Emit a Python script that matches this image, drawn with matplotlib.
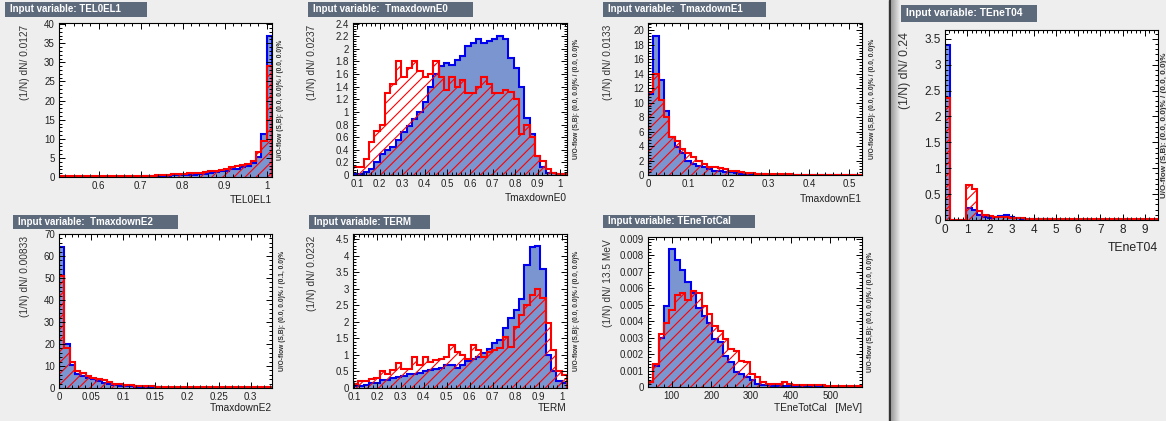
import numpy as np
import matplotlib.pyplot as plt
from matplotlib.patches import Rectangle
from matplotlib.ticker import MultipleLocator, FuncFormatter

plt.rcParams['font.family'] = ['Liberation Sans', 'DejaVu Sans']
plt.rcParams['hatch.linewidth'] = 0.8

# ---- data: 40 bins per variable, signal (blue) and background (red)
tel0el1_sig = [0.05, 0.05, 0.05, 0.05, 0.06, 0.06, 0.06, 0.07, 0.07, 0.08,
               0.08, 0.09, 0.1, 0.1, 0.11, 0.12, 0.14, 0.16, 0.2, 0.3,
               0.3, 0.4, 0.5, 0.5, 0.6, 0.6, 0.8, 0.9, 1.1, 1.3,
               1.6, 1.7, 2.2, 2.2, 2.6, 3.0, 3.6, 5.3, 11.3, 37.0]
tel0el1_bkg = [0.25, 0.25, 0.25, 0.25, 0.25, 0.25, 0.25, 0.25, 0.25, 0.25,
               0.25, 0.25, 0.25, 0.25, 0.3, 0.3, 0.3, 0.35, 0.4, 0.5,
               0.5, 0.8, 0.9, 0.9, 1.0, 1.0, 1.1, 1.3, 1.5, 1.7,
               1.9, 2.2, 2.6, 2.9, 3.2, 3.3, 4.3, 6.5, 9.5, 29.0]

e0_sig = [0.02, 0.02, 0.05, 0.1, 0.2, 0.33, 0.4, 0.45, 0.55, 0.68,
          0.78, 0.88, 1.0, 1.15, 1.4, 1.6, 1.73, 1.78, 1.75, 1.82,
          1.88, 2.05, 2.1, 2.15, 2.1, 2.12, 2.15, 2.2, 2.15, 1.85,
          1.7, 1.4, 0.9, 0.65, 0.3, 0.12, 0.03, 0.03, 0.01, 0.01]
e0_bkg = [0.12, 0.12, 0.25, 0.53, 0.7, 0.8, 1.3, 1.45, 1.8, 1.55,
          1.7, 1.8, 1.65, 1.55, 1.6, 1.8, 1.55, 1.35, 1.55, 1.4,
          1.5, 1.3, 1.3, 1.4, 1.55, 1.45, 1.3, 1.3, 1.35, 1.32,
          1.2, 0.65, 0.8, 0.6, 0.3, 0.22, 0.1, 0.03, 0.01, 0.01]

e1_sig = [11.2, 19.2, 13.1, 8.9, 5.2, 3.9, 3.1, 2.0, 1.5, 1.3,
          1.06, 0.8, 0.6, 0.5, 0.45, 0.35, 0.3, 0.2, 0.15, 0.1,
          0.1, 0.08, 0.06, 0.05, 0.05, 0.04, 0.04, 0.03, 0.03, 0.03,
          0.02, 0.02, 0.02, 0.02, 0.02, 0.02, 0.01, 0.01, 0.01, 0.01]
e1_bkg = [11.5, 14.0, 10.3, 8.0, 5.2, 4.7, 3.6, 3.0, 2.45, 2.0,
          1.5, 1.15, 1.06, 0.9, 0.8, 0.6, 0.5, 0.4, 0.3, 0.25,
          0.2, 0.15, 0.12, 0.1, 0.08, 0.1, 0.08, 0.06, 0.06, 0.05,
          0.05, 0.05, 0.04, 0.04, 0.04, 0.03, 0.03, 0.03, 0.03, 0.03]

t04_sig = [3.38, 0, 0, 0, 0.23, 0.2, 0.1, 0.05, 0.03, 0.05,
           0.07, 0.09, 0.05, 0.03, 0.02, 0.01, 0.01, 0.01, 0.01, 0.01,
           0.005, 0.005, 0.005, 0.005, 0.005, 0.005, 0.005, 0.005, 0.005, 0.005,
           0.005, 0.005, 0.005, 0.005, 0.005, 0.005, 0.005, 0.005, 0.005, 0.005]
t04_bkg = [2.35, 0, 0, 0, 0.68, 0.6, 0.17, 0.1, 0.08, 0.06,
           0.06, 0.05, 0.04, 0.03, 0.03, 0.02, 0.02, 0.02, 0.02, 0.02,
           0.01, 0.01, 0.01, 0.01, 0.01, 0.01, 0.01, 0.01, 0.01, 0.01,
           0.01, 0.01, 0.01, 0.01, 0.01, 0.01, 0.01, 0.01, 0.01, 0.01]

e2_sig = [64, 20.2, 10.3, 6.5, 5.5, 4.5, 4.0, 3.2, 2.4, 1.8,
          1.5, 1.1, 0.9, 0.7, 0.6, 0.5, 0.4, 0.3, 0.3, 0.2,
          0.2, 0.15, 0.15, 0.1, 0.1, 0.1, 0.1, 0.08, 0.08, 0.05,
          0.05, 0.05, 0.05, 0.05, 0.05, 0.05, 0.03, 0.03, 0.03, 0.03]
e2_bkg = [51, 18, 11.9, 7.8, 6.8, 5.5, 4.7, 4.2, 3.5, 2.7,
          2.0, 1.7, 1.5, 1.2, 1.0, 0.9, 0.8, 0.7, 0.6, 0.55,
          0.5, 0.5, 0.45, 0.45, 0.4, 0.4, 0.35, 0.35, 0.3, 0.3,
          0.3, 0.3, 0.3, 0.25, 0.25, 0.25, 0.25, 0.25, 0.25, 0.25]

term_sig = [0.05, 0.05, 0.1, 0.15, 0.15, 0.25, 0.25, 0.3, 0.32, 0.35,
            0.42, 0.42, 0.45, 0.5, 0.55, 0.58, 0.6, 0.68, 0.68, 0.6,
            0.7, 0.82, 0.88, 0.95, 1.05, 1.18, 1.35, 1.45, 1.8, 2.1,
            2.35, 2.7, 3.7, 4.25, 4.3, 3.6, 1.0, 0.5, 0.2, 0.15]
term_bkg = [0.12, 0.2, 0.22, 0.28, 0.3, 0.5, 0.42, 0.55, 0.75, 0.58,
            0.58, 0.95, 0.7, 0.95, 0.78, 0.85, 0.88, 0.95, 1.3, 1.1,
            1.0, 0.88, 1.3, 1.15, 0.95, 1.1, 1.15, 1.2, 1.55, 1.25,
            1.85, 2.2, 2.5, 2.8, 3.0, 2.73, 1.95, 1.15, 0.5, 0.38]

etot_sig = [0.0003, 0.0013, 0.003, 0.0049, 0.0084, 0.0077, 0.0071, 0.0064, 0.0057, 0.0048,
            0.0043, 0.0039, 0.0029, 0.0027, 0.0019, 0.0015, 0.0009, 0.0008, 0.0006, 0.0004,
            0.0002, 0.0001, 0.0001, 0.00008, 0.00005, 0.00005, 0.00004, 0.00003, 0.00003, 0.00002,
            0.00002, 0.00002, 0.00001, 0.00001, 0.00001, 0.00001, 0.00001, 0.00001, 0.00001, 0.00001]
etot_bkg = [0.0003, 0.0014, 0.0032, 0.0039, 0.0047, 0.0056, 0.0057, 0.0053, 0.0058, 0.0057,
            0.0049, 0.0044, 0.0037, 0.0034, 0.0029, 0.0023, 0.0022, 0.0016, 0.0015, 0.0008,
            0.0006, 0.0003, 0.0002, 0.0002, 0.0002, 0.0003, 0.0002, 0.0001, 0.0001, 0.0001,
            0.0001, 0.0001, 0.0001, 0.00005, 0.00005, 0.00005, 0.00005, 0.00005, 0.00005, 0.00005]

W, H = 1166, 421
fig = plt.figure(figsize=(W / 100, H / 100), dpi=100, facecolor='#eeeeee')

# window border between the two canvases
fig.add_artist(Rectangle((889 / W, 0), 2 / W, 1, transform=fig.transFigure, color='#333333'))
for k in range(9):
    fig.add_artist(Rectangle(((891 + k) / W, 0), 1 / W, 1, transform=fig.transFigure,
                             color=str(0.62 + k * 0.035), lw=0))

fmt = FuncFormatter(lambda v, p: '%g' % round(v, 6))


def panel(box, x0, bw, sig, bkg, ytop, xt, yt, title, tbox, ylab, ylab_x, xlab, xlab_y,
          flow, flow_x, fs=7.0, tfs=7.0):
    l, t, r, b = box
    ax = fig.add_axes([l / W, 1 - b / H, (r - l) / W, (b - t) / H])
    edges = x0 + bw * np.arange(len(sig) + 1)
    ax.stairs(sig, edges, fill=True, facecolor='#7a95cf', edgecolor='none', lw=0)
    ax.stairs(sig, edges, baseline=0, color='#0000ee', lw=1.5)
    ax.stairs(bkg, edges, fill=True, facecolor='none', edgecolor='#ff0000', hatch='///', lw=0)
    ax.stairs(bkg, edges, baseline=0, color='#ff0000', lw=1.5)
    ax.set_xlim(edges[0], edges[-1])
    ax.set_ylim(0, ytop)
    ax.xaxis.set_major_locator(MultipleLocator(xt[0]))
    ax.xaxis.set_minor_locator(MultipleLocator(xt[1]))
    ax.yaxis.set_major_locator(MultipleLocator(yt[0]))
    ax.yaxis.set_minor_locator(MultipleLocator(yt[1]))
    ax.xaxis.set_major_formatter(fmt)
    ax.yaxis.set_major_formatter(fmt)
    ax.tick_params(which='both', direction='in', top=True, right=True, width=0.7,
                   labelsize=fs, labelcolor='#222222', pad=3)
    ax.tick_params(which='major', length=4.5)
    ax.tick_params(which='minor', length=2.2)
    for s in ax.spines.values():
        s.set_linewidth(0.8)

    bx0, by0, bx1, by1 = tbox
    fig.add_artist(Rectangle((bx0 / W, 1 - by1 / H), (bx1 - bx0) / W, (by1 - by0) / H,
                             transform=fig.transFigure, color='#5d6a7c', lw=0))
    fig.text((bx0 + 5) / W, 1 - (by0 + by1) / 2 / H, title, color='white', weight='bold',
             fontsize=tfs, ha='left', va='center')
    fig.text(ylab_x / W, 1 - (t + 2) / H, ylab, rotation=90, rotation_mode='anchor',
             ha='right', va='center', fontsize=fs + 0.3, color='#333333')
    fig.text(r / W, 1 - xlab_y / H, xlab, ha='right', va='center', fontsize=fs + 0.3,
             color='#222222')
    fig.text(flow_x / W, 1 - (t + b) / 2 / H, flow, rotation=90, ha='center', va='center',
             fontsize=fs * 0.68, weight='bold', color='#333333')
    return ax


flow00 = 'U/O-flow (S,B): (0.0, 0.0)% / (0.0, 0.0)%'
flow01 = 'U/O-flow (S,B): (0.0, 0.0)% / (0.1, 0.0)%'

panel((59, 23, 272, 177), 0.505, 0.0127, tel0el1_sig, tel0el1_bkg, 40.3, (0.1, 0.02), (5, 1),
      'Input variable: TEL0EL1', (5, 2, 147, 17), '(1/N) dN/ 0.0127', 25, 'TEL0EL1', 200,
      flow00, 281)
panel((353, 23, 567, 175), 0.082, 0.0237, e0_sig, e0_bkg, 2.41, (0.1, 0.02), (0.2, 0.04),
      'Input variable:  TmaxdownE0', (308, 2, 473, 17), '(1/N) dN/ 0.0237', 312, 'TmaxdownE0', 198,
      flow00, 577)
panel((648, 23, 862, 175), 0.0, 0.0133, e1_sig, e1_bkg, 21.0, (0.1, 0.02), (2, 0.4),
      'Input variable:  TmaxdownE1', (603, 2, 766, 17), '(1/N) dN/ 0.0133', 608, 'TmaxdownE1', 199,
      flow00, 872)
panel((945, 30, 1158, 220), 0.0, 0.24, t04_sig, t04_bkg, 3.67, (1, 0.2), (0.5, 0.1),
      'Input variable: TEneT04', (901, 5, 1037, 22), '(1/N) dN/ 0.24', 905, 'TEneT04', 248,
      flow00, 1164, fs=8.5, tfs=7.4)
panel((59, 234, 272, 388), 0.0, 0.00833, e2_sig, e2_bkg, 70, (0.05, 0.01), (10, 2),
      'Input variable:  TmaxdownE2', (13, 215, 178, 229), '(1/N) dN/ 0.00833', 25, 'TmaxdownE2', 408,
      flow01, 283)
panel((353, 234, 567, 388), 0.094, 0.0232, term_sig, term_bkg, 4.65, (0.1, 0.02), (0.5, 0.1),
      'Input variable: TERM', (309, 215, 430, 229), '(1/N) dN/ 0.0232', 312, 'TERM', 408,
      flow00, 577)
panel((648, 237, 862, 387), 40, 13.5, etot_sig, etot_bkg, 0.0091, (100, 20), (0.001, 0.0002),
      'Input variable: TEneTotCal', (603, 215, 755, 228), '(1/N) dN/ 13.5 MeV', 608,
      'TEneTotCal   [MeV]', 408, flow00, 871)

fig.savefig('out.png', dpi=100, facecolor=fig.get_facecolor())
